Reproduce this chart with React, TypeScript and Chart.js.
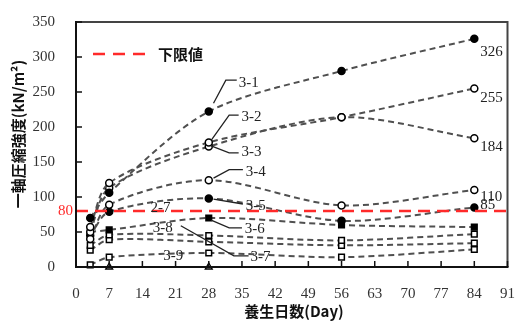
import React, { useEffect, useRef } from "react";
import { Chart, registerables } from "chart.js";

Chart.register(...registerables);

// ---- data ----
const days = [3, 7, 28, 56, 84];
const s31 = [70, 106, 222, 280, 326];
const s32 = [57, 120, 178, 214, 255];
const s33 = [50, 113, 172, 214, 184];
const s34 = [40, 89, 124, 88, 110];
const s35 = [45, 79, 98, 66, 85];
const s36 = [50, 53, 70, 60, 57];
const s37 = [31, 46, 45, 38, 47];
const s38 = [24, 39, 36, 31, 34];
const s39 = [3, 14, 20, 14, 25];
const triDays = [7, 28];
const triValues = [0, 0];
const limitValue = 80;
const limitLabel = "下限値";
const xTitle = "養生日数(Day)";
const yTitle = "一軸圧縮強度(kN/m²)";
const xMax = 91;
const xStep = 7;
const yMax = 350;
const yStep = 50;

// leader-line annotations (data coordinates)
const leaders = [
  { text: "3-1", pts: [[29, 234], [31.6, 267], [33.9, 267]], tx: 34.3, ty: 263 },
  { text: "3-2", pts: [[28.5, 181], [32.3, 217], [34.3, 217]], tx: 34.9, ty: 214 },
  { text: "3-3", pts: [[28.5, 173], [32.3, 163], [34.3, 163]], tx: 34.9, ty: 164 },
  { text: "3-4", pts: [[29, 127], [32.3, 139], [35.2, 139]], tx: 35.8, ty: 136 },
  { text: "3-5", pts: [[29, 97], [35.2, 90]], tx: 35.8, ty: 87 },
  { text: "3-6", pts: [[28.5, 67], [32.3, 56], [35, 56]], tx: 35.6, ty: 54 },
  { text: "3-7", pts: [[22.1, 59], [33.3, 16], [36.4, 16]], tx: 36.8, ty: 14 },
  { text: "2-7", pts: [], tx: 15.7, ty: 84 },
  { text: "3-8", pts: [], tx: 16.2, ty: 56 },
  { text: "3-9", pts: [], tx: 18.4, ty: 16 },
];
const endSeries = [s31, s32, s33, s34, s35];

const SERIF = "'Liberation Serif', 'DejaVu Serif', serif";
const CJK = "'Noto Sans CJK JP', 'Noto Sans', sans-serif";
const LINE = "#505050";
const RED = "#ff2a2a";

const pts = (xs: number[], ys: number[]) => xs.map((x, i) => ({ x, y: ys[i] }));

function series(label: string, ys: number[], style: string, filled: boolean) {
  return {
    label,
    data: pts(days, ys),
    showLine: true,
    borderColor: LINE,
    borderWidth: 2,
    borderDash: [6, 4],
    tension: 0.3,
    pointStyle: style,
    pointRadius: style === "rect" ? 4 : 3.5,
    pointBorderColor: "#000",
    pointBorderWidth: 1.5,
    pointBackgroundColor: filled ? "#000" : "#fff",
  };
}

const annotPlugin = {
  id: "annot",
  afterDatasetsDraw(chart: any) {
    const ctx = chart.ctx;
    const x = chart.scales.x;
    const y = chart.scales.y;
    ctx.save();
    ctx.strokeStyle = "#222";
    ctx.lineWidth = 1.3;
    ctx.fillStyle = "#222";
    ctx.font = `15px ${SERIF}`;
    ctx.textBaseline = "middle";
    ctx.textAlign = "left";
    leaders.forEach((l) => {
      if (l.pts.length) {
        ctx.beginPath();
        l.pts.forEach((p, i) => {
          const px = x.getPixelForValue(p[0]);
          const py = y.getPixelForValue(p[1]);
          if (i === 0) ctx.moveTo(px, py);
          else ctx.lineTo(px, py);
        });
        ctx.stroke();
      }
      ctx.fillText(l.text, x.getPixelForValue(l.tx), y.getPixelForValue(l.ty));
    });
    const offs = [13, 10, 9, 7, -2];
    endSeries.forEach((s, i) => {
      const v = s[s.length - 1];
      const px = x.getPixelForValue(days[days.length - 1]) + 6;
      const py = y.getPixelForValue(v) + offs[i];
      ctx.fillText(String(v), px, py);
    });
    ctx.restore();
  },
  afterDraw(chart: any) {
    const ctx = chart.ctx;
    const a = chart.chartArea;
    const x = chart.scales.x;
    const y = chart.scales.y;
    ctx.save();
    // frame
    ctx.lineWidth = 2;
    ctx.strokeStyle = "#444";
    ctx.beginPath();
    ctx.moveTo(a.left, a.top);
    ctx.lineTo(a.right, a.top);
    ctx.lineTo(a.right, a.bottom);
    ctx.stroke();
    ctx.strokeStyle = "#111";
    ctx.beginPath();
    ctx.moveTo(a.left, a.top - 1);
    ctx.lineTo(a.left, a.bottom);
    ctx.lineTo(a.right + 1, a.bottom);
    ctx.stroke();
    // inward ticks
    ctx.lineWidth = 1.5;
    x.ticks.forEach((t: any) => {
      const px = x.getPixelForValue(t.value);
      ctx.beginPath();
      ctx.moveTo(px, a.bottom);
      ctx.lineTo(px, a.bottom - 6);
      ctx.stroke();
    });
    y.ticks.forEach((t: any) => {
      const py = y.getPixelForValue(t.value);
      ctx.beginPath();
      ctx.moveTo(a.left, py);
      ctx.lineTo(a.left + 6, py);
      ctx.stroke();
    });
    // limit label on axis
    ctx.fillStyle = RED;
    ctx.font = `15px ${SERIF}`;
    ctx.textAlign = "right";
    ctx.textBaseline = "middle";
    ctx.fillText(String(limitValue), a.left - 3, y.getPixelForValue(limitValue));
    // legend
    ctx.strokeStyle = RED;
    ctx.lineWidth = 2.5;
    ctx.setLineDash([12, 8]);
    const ly = y.getPixelForValue(300) - 3;
    ctx.beginPath();
    ctx.moveTo(93, ly);
    ctx.lineTo(145, ly);
    ctx.stroke();
    ctx.setLineDash([]);
    ctx.fillStyle = "#111";
    ctx.font = `bold 15px ${CJK}`;
    ctx.textAlign = "left";
    ctx.fillText(limitLabel, 158, ly);
    // axis titles
    ctx.font = `bold 15px ${CJK}`;
    ctx.textAlign = "center";
    ctx.fillText(xTitle, 294, 311);
    ctx.translate(18, 134);
    ctx.rotate(-Math.PI / 2);
    ctx.fillText(yTitle, 0, 0);
    ctx.restore();
  },
};

export default function App() {
  const ref = useRef<HTMLCanvasElement>(null);
  useEffect(() => {
    if (!ref.current) return;
    const chart = new Chart(ref.current, {
      type: "scatter",
      data: {
        datasets: [
          {
            label: limitLabel,
            data: [
              { x: 0, y: limitValue },
              { x: xMax, y: limitValue },
            ],
            showLine: true,
            borderColor: RED,
            borderWidth: 2.5,
            borderDash: [12, 7],
            pointRadius: 0,
            order: -1,
          } as any,
          series("3-1", s31, "circle", true),
          series("3-2", s32, "circle", false),
          series("3-3", s33, "circle", false),
          series("3-4", s34, "circle", false),
          series("3-5", s35, "circle", true),
          series("3-6", s36, "rect", true),
          series("3-7", s37, "rect", false),
          series("3-8", s38, "rect", false),
          series("3-9", s39, "rect", false),
          {
            label: "tri",
            data: pts(triDays, triValues),
            showLine: false,
            pointStyle: "triangle",
            pointRadius: 4,
            pointBorderColor: "#000",
            pointBorderWidth: 1.3,
            pointBackgroundColor: "#fff",
          } as any,
        ],
      },
      options: {
        animation: false,
        responsive: false,
        clip: false as any,
        layout: { padding: { top: 22, right: 9, left: 0, bottom: 0 } },
        plugins: { legend: { display: false }, tooltip: { enabled: false } },
        scales: {
          x: {
            type: "linear",
            min: 0,
            max: xMax,
            grid: { display: false },
            border: { display: false },
            ticks: {
              stepSize: xStep,
              color: "#333",
              padding: 10,
              maxRotation: 0,
              font: { family: SERIF, size: 15 },
            },
            afterFit: (s: any) => {
              s.height = 57;
            },
          },
          y: {
            min: 0,
            max: yMax,
            grid: { display: false },
            border: { display: false },
            ticks: {
              stepSize: yStep,
              color: "#333",
              padding: 13,
              font: { family: SERIF, size: 15 },
            },
            afterFit: (s: any) => {
              s.width = 76;
            },
          },
        },
      },
      plugins: [annotPlugin],
    });
    return () => chart.destroy();
  }, []);
  return (
    <div style={{ position: "absolute", left: 0, top: 0, width: 525, height: 324, background: "#fff" }}>
      <canvas ref={ref} width={525} height={324} />
    </div>
  );
}
